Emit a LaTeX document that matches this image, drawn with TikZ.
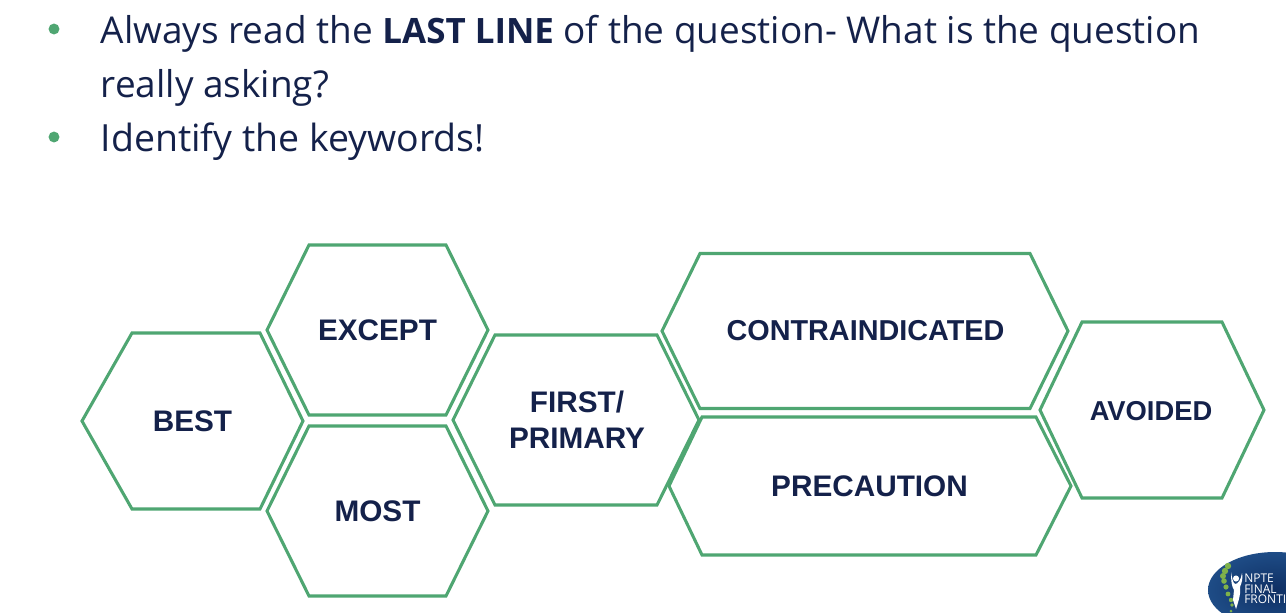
\documentclass[tikz,border=0pt]{standalone}
\usepackage{fontspec}
\setmainfont{Open Sans}
\newfontfamily\lblfont{Liberation Sans}
\definecolor{gr}{HTML}{4FA672}
\definecolor{nv}{HTML}{14214A}
\definecolor{lgin}{HTML}{0F2F63}
\definecolor{lgout}{HTML}{1E4C86}
\definecolor{dot}{HTML}{7FB24A}
\tikzset{
  hexa/.style={draw=gr,line width=2.3pt,line join=miter,fill=none},
  lbl/.style={font=\lblfont\fontsize{22.3}{27}\bfseries\selectfont,text=nv,align=center,inner sep=0pt},
  body/.style={font=\fontsize{27.7}{30}\selectfont,text=nv,anchor=base west,inner sep=0pt},
  bul/.style={circle,fill=gr,draw=none,minimum size=8.2pt,inner sep=0pt}
}
\newcommand{\hexpath}[6]{\draw[hexa] (#1,#3) -- (#2,#4) -- (#5,#4) -- (#6,#3) -- (#5,2*#3-#4) -- (#2,2*#3-#4) -- cycle;}
\begin{document}
\begin{tikzpicture}[x=0.75pt,y=-0.75pt]
\useasboundingbox (0,0) rectangle (1286,612);
\node[bul] (b1) at (54,29) {};
\node[bul] (b2) at (54,137) {};
\node[body] (t1) at (100.5,43.5) {Always read the {\fontsize{26.2}{30}\selectfont\textbf{LAST LINE}} of the question- What is the question};
\node[body] (t2) at (100.5,97.5) {really asking?};
\node[body,font=\fontsize{28.1}{30}\selectfont] (t3) at (100.5,151.5) {Identify the keywords!};
\hexpath{82}{132}{421}{333}{260}{303}
\hexpath{267}{309}{330}{245}{446}{488}
\hexpath{267}{309}{511}{426}{446}{488}
\hexpath{453}{495}{420}{335}{657}{699}
\hexpath{662}{700}{331}{253.5}{1030}{1068}
\hexpath{669}{702}{486}{417}{1036}{1071}
\hexpath{1040}{1082}{410}{322}{1222}{1264}
\node[lbl] (n1) at (192.5,421) {BEST};
\node[lbl] (n2) at (377.5,330.5) {EXCEPT};
\node[lbl] (n3) at (377.5,511.5) {MOST};
\node[lbl] (n4) at (577,420) {FIRST/\\PRIMARY};
\node[lbl,font=\lblfont\fontsize{21.6}{27}\bfseries\selectfont] (n5) at (865.5,331) {CONTRAINDICATED};
\node[lbl] (n6) at (869.5,486) {PRECAUTION};
\node[lbl,font=\lblfont\fontsize{20.5}{27}\bfseries\selectfont] (n7) at (1151,411.5) {AVOIDED};
\begin{scope}
\clip (0,0) rectangle (1286,612);
\shade[inner color=lgin,outer color=lgout] (1275,590) ellipse [x radius=67*0.75pt, y radius=38*0.75pt];
\foreach \a/\b/\r in {1228/566/3.2,1225/571/3.2,1223/576/3,1224/581/2.8,1226/587/2.6,1228/594/2.4,1231/600/2.2,1232/605/1.8,1231/611/1.5}
  \fill[dot] (\a,\b) circle [radius=\r*0.75pt];
\fill[white] (1231,572) .. controls (1231,582) and (1232,587) .. (1234,590) -- (1233,600) -- (1236,609) .. controls (1239,600) and (1241,592) .. (1240,587) .. controls (1242,582) and (1243,578) .. (1242,573) .. controls (1241,580) and (1238,584) .. (1235,584) .. controls (1233,583) and (1232,578) .. (1231,572) -- cycle;
\fill[white] (1236,578.5) circle [radius=2.3pt];
\node[font=\fontsize{9}{8}\selectfont,text=white,align=left,anchor=north west,inner sep=0pt] (logo) at (1244,573.5) {NPTE\\FINAL\\FRONTI};
\end{scope}
\end{tikzpicture}
\end{document}
